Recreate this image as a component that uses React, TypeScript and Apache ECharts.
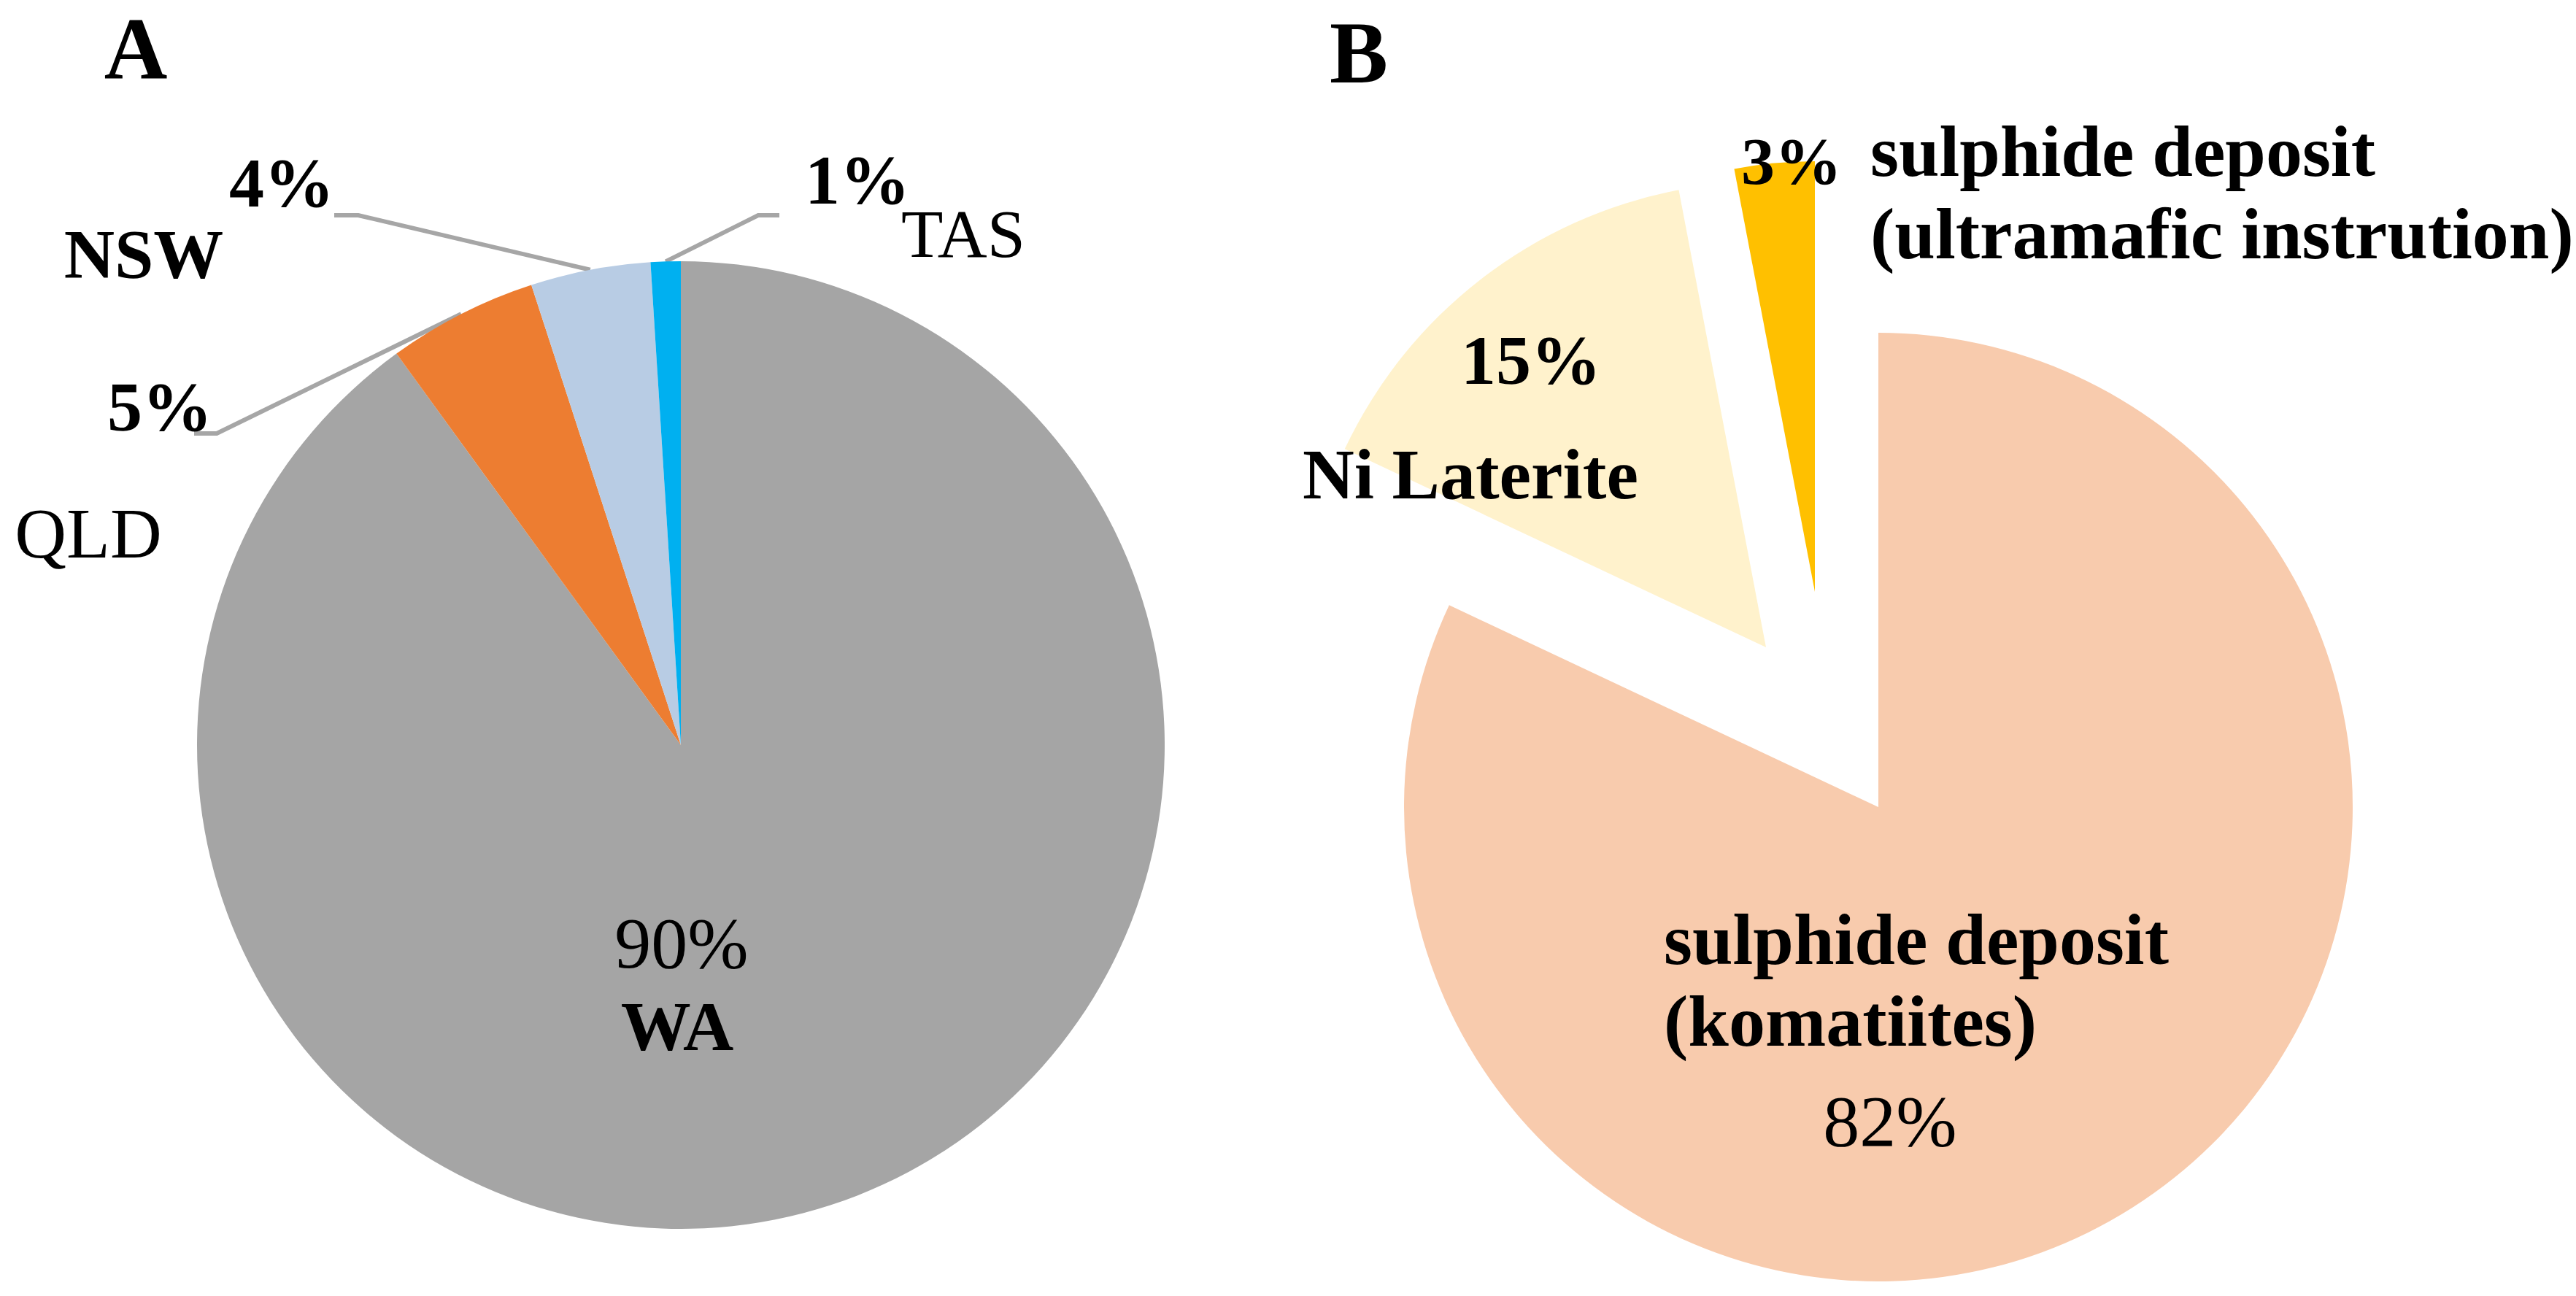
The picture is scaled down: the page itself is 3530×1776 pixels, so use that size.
import React, { useEffect, useRef } from 'react';
import * as echarts from 'echarts';

// ---------- data ----------
const panelTitles = ['A', 'B'];

const statesA = ['WA', 'QLD', 'NSW', 'TAS'];
const valuesA = [90, 5, 4, 1];

const typesB = ['sulphide deposit\n(komatiites)', 'Ni Laterite', 'sulphide deposit\n(ultramafic instrution)'];
const valuesB = [82, 15, 3];

// ---------- styles / layout ----------
const colorsA = ['#A5A5A5', '#ED7D31', '#B8CCE4', '#00B0F0'];
const colorsB = ['#F8CBAD', '#FFF2CC', '#FFC000'];
const FONT = '"Liberation Serif", "Times New Roman", serif';
const LINE_COLOR = '#A6A6A6';

const pieA = { center: [933, 1021], radius: 663 };
const piesB = [
  { center: [2574, 1106], radius: 650 },
  { center: [2420, 887], radius: 638 },
  { center: [2487, 811], radius: 590 },
];

const pctStyleA = [
  { x: 934, y: 1292, weight: 'normal', size: 100 },
  { x: 219, y: 557, weight: 'bold', size: 96 },
  { x: 386, y: 250, weight: 'bold', size: 96 },
  { x: 1175, y: 246, weight: 'bold', size: 96 },
];
const leaderTailA: (number[][] | null)[] = [
  null,
  [[297, 594], [266, 594]],
  [[491, 295], [458, 295]],
  [[1039, 295], [1068, 295]],
];
const nameStyleA = [
  { x: 928, y: 1406, weight: 'bold', size: 96, align: 'center' },
  { x: 121, y: 731, weight: 'normal', size: 98, align: 'center' },
  { x: 197, y: 348, weight: 'bold', size: 96, align: 'center' },
  { x: 1320, y: 320, weight: 'normal', size: 94, align: 'center' },
];

const pctStyleB = [
  { x: 2590, y: 1536, weight: 'normal', size: 100 },
  { x: 2098, y: 493, weight: 'bold', size: 96 },
  { x: 2455, y: 221, weight: 'bold', size: 92 },
];
const nameStyleB = [
  { x: 2280, y: 1343, weight: 'bold', size: 100, align: 'left', lineHeight: 112 },
  { x: 2015, y: 650, weight: 'bold', size: 98, align: 'center', lineHeight: 112 },
  { x: 2563, y: 264, weight: 'bold', size: 100, align: 'left', lineHeight: 113 },
];
const titlePos = [
  { x: 186, y: 66 },
  { x: 1862, y: 72 },
];

function textEl(text: string, x: number, y: number, size: number, weight: string, align: string, lineHeight?: number) {
  return {
    type: 'text',
    x,
    y,
    z: 100,
    zlevel: 0,
    silent: true,
    style: {
      text,
      fill: '#000',
      fontFamily: FONT,
      fontSize: size,
      fontWeight: weight,
      align,
      textAlign: align,
      verticalAlign: 'middle',
      textVerticalAlign: 'middle',
      lineHeight: lineHeight || Math.round(size * 1.15),
    },
  };
}

export default function App() {
  const ref = useRef<HTMLDivElement>(null);

  useEffect(() => {
    if (!ref.current) return;
    const chart = echarts.init(ref.current, undefined, { renderer: 'svg' });

    // mid-angle anchors on the outer edge of pie A (from the data)
    const totalA = valuesA.reduce((a, b) => a + b, 0);
    let cum = 0;
    const anchorsA = valuesA.map((v) => {
      const mid = (cum + v / 2) / totalA;
      cum += v;
      const theta = ((90 - 360 * mid) * Math.PI) / 180;
      return [pieA.center[0] + pieA.radius * Math.cos(theta), pieA.center[1] - pieA.radius * Math.sin(theta)];
    });

    const lineStyle = { color: LINE_COLOR, width: 6 };

    const seriesA: any = {
      type: 'pie',
      z: 2,
      center: pieA.center,
      radius: pieA.radius,
      startAngle: 90,
      clockwise: true,
      silent: true,
      avoidLabelOverlap: false,
      percentPrecision: 0,
      itemStyle: { borderWidth: 0 },
      emphasis: { disabled: true },
      label: { show: true, formatter: '{d}%', color: '#000', fontFamily: FONT },
      labelLine: { show: true, lineStyle },
      data: valuesA.map((v, i) => ({
        name: statesA[i],
        value: v,
        itemStyle: { color: colorsA[i] },
        label: {
          position: i === 0 ? 'inside' : 'outside',
          fontWeight: pctStyleA[i].weight,
          fontSize: pctStyleA[i].size,
        },
        labelLine: { show: i !== 0, lineStyle },
      })),
      labelLayout: (p: any) => {
        const i = p.dataIndex;
        const s = pctStyleA[i];
        const out: any = { x: s.x, y: s.y, align: 'center', verticalAlign: 'middle' };
        const tail = leaderTailA[i];
        if (tail) out.labelLinePoints = [anchorsA[i], tail[0], tail[1]];
        return out;
      },
    };

    const seriesB = piesB.map((pb, k) => ({
      type: 'pie',
      z: 2,
      center: pb.center,
      radius: pb.radius,
      startAngle: 90,
      clockwise: true,
      silent: true,
      avoidLabelOverlap: false,
      percentPrecision: 0,
      itemStyle: { borderWidth: 0 },
      emphasis: { disabled: true },
      label: { show: true, position: 'inside', formatter: '{d}%', color: '#000', fontFamily: FONT },
      labelLine: { show: false },
      data: valuesB.map((v, j) => ({
        name: typesB[j],
        value: v,
        itemStyle: { color: j === k ? colorsB[j] : 'rgba(0,0,0,0)' },
        label: {
          show: j === k,
          fontWeight: pctStyleB[j].weight,
          fontSize: pctStyleB[j].size,
        },
      })),
      labelLayout: (p: any) => {
        const s = pctStyleB[p.dataIndex];
        return { x: s.x, y: s.y, align: 'center', verticalAlign: 'middle' };
      },
    }));

    const elements: any[] = [];
    panelTitles.forEach((t, i) => elements.push(textEl(t, titlePos[i].x, titlePos[i].y, 120, 'bold', 'center')));
    statesA.forEach((n, i) => {
      const s = nameStyleA[i];
      elements.push(textEl(n, s.x, s.y, s.size, s.weight, s.align));
    });
    typesB.forEach((n, i) => {
      const s = nameStyleB[i];
      elements.push(textEl(n, s.x, s.y, s.size, s.weight, s.align, s.lineHeight));
    });

    chart.setOption({
      animation: false,
      backgroundColor: '#ffffff',
      series: [seriesA, ...seriesB],
      graphic: { z: 100, elements },
    });

    return () => chart.dispose();
  }, []);

  return (
    <div
      ref={ref}
      style={{ position: 'absolute', left: 0, top: 0, width: 3530, height: 1776, background: '#fff' }}
    />
  );
}
